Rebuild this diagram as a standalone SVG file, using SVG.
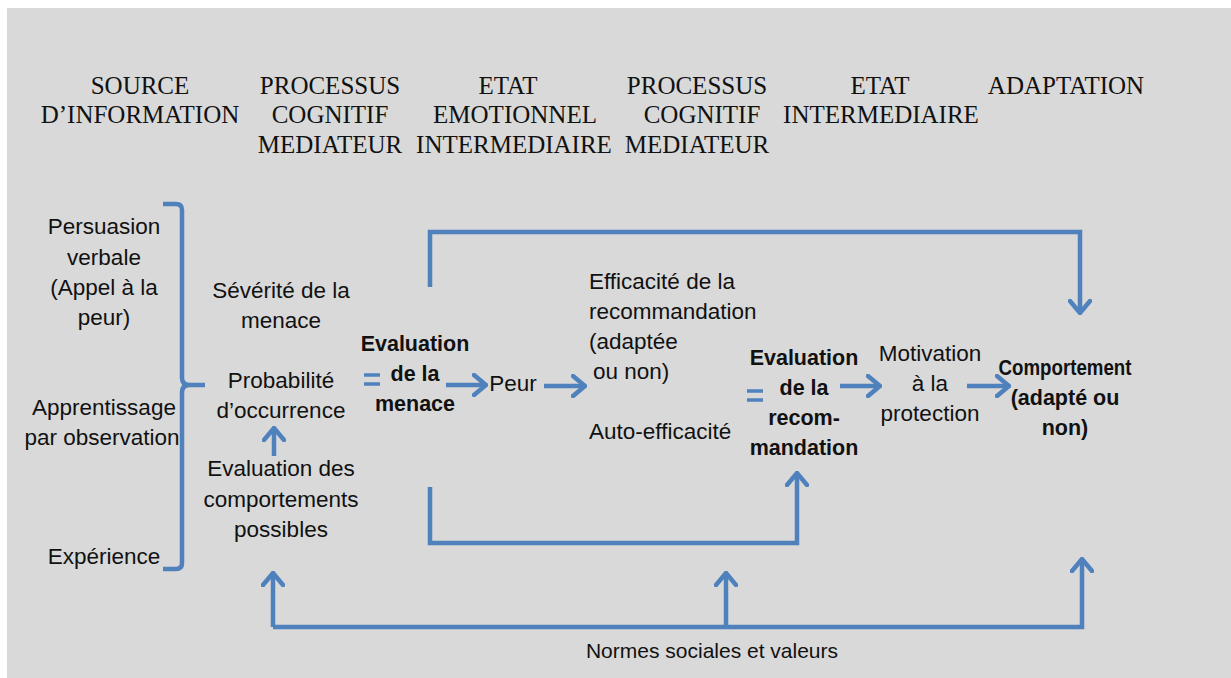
<svg xmlns="http://www.w3.org/2000/svg" width="1231" height="678" viewBox="0 0 1231 678">
<defs>
<style>
.hd{font-family:"Liberation Serif","Times New Roman",serif;font-size:25px;fill:#111;text-anchor:middle}
.t{font-family:"Liberation Sans",Arial,sans-serif;font-size:22.5px;fill:#111;text-anchor:middle}
.b{font-family:"Liberation Sans",Arial,sans-serif;font-size:21.5px;font-weight:bold;fill:#111;text-anchor:middle}
.l{text-anchor:start}
.c{fill:none;stroke:#4f81bd;stroke-width:4.5;stroke-linejoin:miter}
.eq{stroke:#4f81bd;stroke-width:3.5}
</style>
<marker id="ah" viewBox="0 0 16 24" refX="14" refY="12" markerWidth="16" markerHeight="24" markerUnits="userSpaceOnUse" orient="auto">
<path d="M2,2 L14,12 L2,22" fill="none" stroke="#4f81bd" stroke-width="4.5" stroke-linecap="round"/>
</marker>
</defs>
<rect x="0" y="0" width="1231" height="678" fill="#ffffff"/>
<rect x="7" y="8" width="1224" height="670" fill="#d9d9d9"/>

<g id="headers">
<text class="hd" x="140" y="94">SOURCE</text>
<text class="hd" x="140" y="123">D’INFORMATION</text>
<text class="hd" x="330" y="94">PROCESSUS</text>
<text class="hd" x="330" y="123">COGNITIF</text>
<text class="hd" x="330" y="153">MEDIATEUR</text>
<text class="hd" x="508" y="94">ETAT</text>
<text class="hd" x="515" y="123">EMOTIONNEL</text>
<text class="hd" x="514" y="153">INTERMEDIAIRE</text>
<text class="hd" x="697" y="94">PROCESSUS</text>
<text class="hd" x="702" y="123">COGNITIF</text>
<text class="hd" x="697" y="153">MEDIATEUR</text>
<text class="hd" x="880" y="94">ETAT</text>
<text class="hd" x="881" y="123">INTERMEDIAIRE</text>
<text class="hd" x="1066" y="94">ADAPTATION</text>
</g>

<g id="sources">
<text class="t" x="104" y="234">Persuasion</text>
<text class="t" x="104" y="265">verbale</text>
<text class="t" x="104" y="295">(Appel à la</text>
<text class="t" x="104" y="325">peur)</text>
<text class="t" x="104" y="415">Apprentissage</text>
<text class="t" x="102" y="445">par observation</text>
<text class="t" x="104" y="564">Expérience</text>
</g>

<g id="bracket">
<path class="c" d="M163,204 L176,204 Q182,204 182,210 L182,378 Q182,385 190,385 L205,385 M190,385 Q182,385 182,392 L182,563 Q182,569 176,569 L163,569"/>
</g>

<g id="menace-factors">
<text class="t" x="281" y="298">Sévérité de la</text>
<text class="t" x="281" y="328">menace</text>
<text class="t" x="281" y="388">Probabilité</text>
<text class="t" x="281" y="418">d’occurrence</text>
</g>

<g id="eval-comportements">
<text class="t" x="281" y="476">Evaluation des</text>
<text class="t" x="281" y="507">comportements</text>
<text class="t" x="281" y="537">possibles</text>
</g>

<g id="eq1">
<line class="eq" x1="364" y1="375" x2="380" y2="375"/>
<line class="eq" x1="364" y1="384" x2="380" y2="384"/>
</g>

<g id="eval-menace">
<text class="b" x="415" y="351">Evaluation</text>
<text class="b" x="415" y="381">de la</text>
<text class="b" x="415" y="411">menace</text>
</g>

<g id="peur">
<text class="t" x="513" y="391">Peur</text>
</g>

<g id="efficacite">
<text class="t l" x="589" y="289">Efficacité de la</text>
<text class="t l" x="589" y="319">recommandation</text>
<text class="t l" x="589" y="349">(adaptée</text>
<text class="t l" x="593" y="379">ou non)</text>
<text class="t l" x="589" y="439">Auto-efficacité</text>
</g>

<g id="eq2">
<line class="eq" x1="747" y1="391" x2="763" y2="391"/>
<line class="eq" x1="747" y1="400" x2="763" y2="400"/>
</g>

<g id="eval-recom">
<text class="b" x="804" y="365">Evaluation</text>
<text class="b" x="804" y="395">de la</text>
<text class="b" x="804" y="425">recom-</text>
<text class="b" x="804" y="455">mandation</text>
</g>

<g id="motivation">
<text class="t" x="930" y="361">Motivation</text>
<text class="t" x="930" y="391">à la</text>
<text class="t" x="930" y="421">protection</text>
</g>

<g id="comportement">
<text class="b" x="1065" y="375" textLength="133" lengthAdjust="spacingAndGlyphs">Comportement</text>
<text class="b" x="1065" y="405">(adapté ou</text>
<text class="b" x="1065" y="435">non)</text>
</g>

<g id="normes">
<text class="t" x="712" y="658" style="font-size:21px">Normes sociales et valeurs</text>
</g>

<g id="connectors">
<line class="c" x1="274" y1="456" x2="274" y2="428" marker-end="url(#ah)"/>
<line class="c" x1="446" y1="385" x2="486" y2="385" marker-end="url(#ah)"/>
<line class="c" x1="544" y1="386" x2="585" y2="386" marker-end="url(#ah)"/>
<line class="c" x1="840" y1="386" x2="880" y2="386" marker-end="url(#ah)"/>
<line class="c" x1="967" y1="386" x2="1009" y2="386" marker-end="url(#ah)"/>
<polyline class="c" points="430,287 430,232 1080,232 1080,313" marker-end="url(#ah)"/>
<polyline class="c" points="430,487 430,543 797,543 797,473" marker-end="url(#ah)"/>
<polyline class="c" points="273,627 1082,627 1082,559" marker-end="url(#ah)"/>
<line class="c" x1="273" y1="627" x2="273" y2="573" marker-end="url(#ah)"/>
<line class="c" x1="726" y1="627" x2="726" y2="573" marker-end="url(#ah)"/>
</g>
</svg>
